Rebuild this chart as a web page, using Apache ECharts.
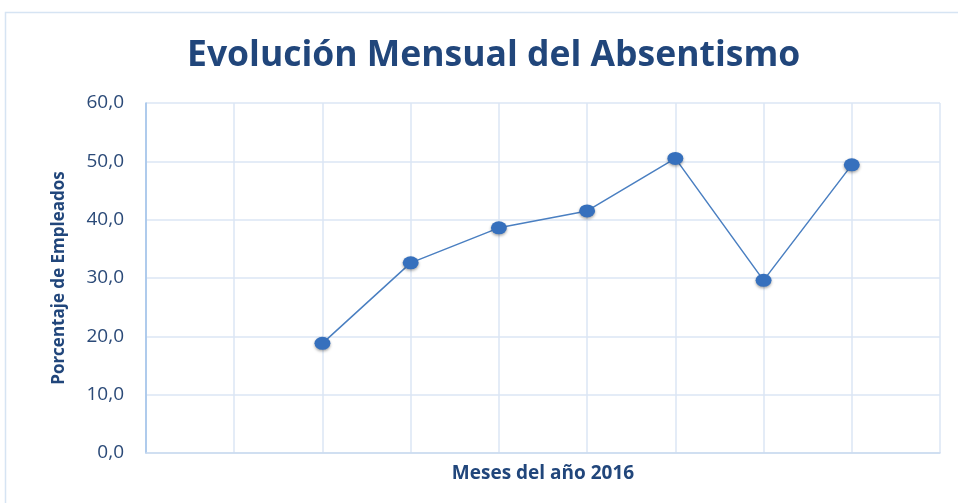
<!DOCTYPE html>
<html><head><meta charset="utf-8">
<script src="https://cdn.jsdelivr.net/npm/echarts@6/dist/echarts.min.js"></script>
<style>html,body{margin:0;padding:0;background:#fff}#c{width:958px;height:503px}</style>
</head><body><div id="c"></div>
<script>
const categories = ['', '', 'Mar', 'Abr', 'May', 'Jun', 'Jul', 'Ago', 'Sep', ''];
const values = [null, null, 18.8, 32.6, 38.6, 41.5, 50.5, 29.6, 49.4, null];
const yTicks = [0, 10, 20, 30, 40, 50, 60];
const title = 'Evolución Mensual del Absentismo';
const yName = 'Porcentaje de Empleados';
const xName = 'Meses del año 2016';

const chart = echarts.init(document.getElementById('c'));
chart.setOption({
  animation: false,
  backgroundColor: '#fff',
  graphic: [{type: 'rect', shape: {x: 5.5, y: 12.5, width: 1000, height: 600}, style: {fill: 'none', stroke: '#d6e4f3', lineWidth: 1.5}, silent: true}],
  title: {text: title, left: 182, top: 33, textStyle: {fontFamily: 'Open Sans', fontWeight: 'bold', fontSize: 35.5, color: '#21467b'}},
  grid: {left: 146, right: 18, top: 103, bottom: 50},
  xAxis: {
    type: 'category', data: categories, boundaryGap: false,
    name: xName, nameLocation: 'middle', nameGap: 11,
    nameTextStyle: {fontFamily: 'Open Sans', fontWeight: 'bold', fontSize: 19, color: '#21467b'},
    axisLine: {lineStyle: {color: '#c9daf0', width: 1.5}},
    axisTick: {show: false}, axisLabel: {show: false},
    splitLine: {show: true, lineStyle: {color: '#dbe6f4', width: 1.5}}
  },
  yAxis: {
    type: 'value', min: yTicks[0], max: yTicks[yTicks.length - 1], interval: 10,
    name: yName, nameLocation: 'middle', nameGap: 78,
    nameTextStyle: {fontFamily: 'Open Sans', fontWeight: 'bold', fontSize: 17, color: '#21467b'},
    axisLine: {show: true, lineStyle: {color: '#9ec0e8', width: 1.5}},
    axisTick: {show: false},
    axisLabel: {formatter: v => v.toFixed(1).replace('.', ','), fontFamily: 'Open Sans', fontSize: 19, color: '#2b4a78', margin: 22},
    splitLine: {lineStyle: {color: '#dbe6f4', width: 1.5}}
  },
  series: [{
    type: 'line', data: values, connectNulls: false,
    symbol: 'circle', symbolSize: [16, 13],
    lineStyle: {color: '#4a7fc1', width: 1.5},
    itemStyle: {color: '#3670bd', shadowColor: 'rgba(0,0,0,0.35)', shadowBlur: 3, shadowOffsetY: 1.5}
  }]
});
</script></body></html>
